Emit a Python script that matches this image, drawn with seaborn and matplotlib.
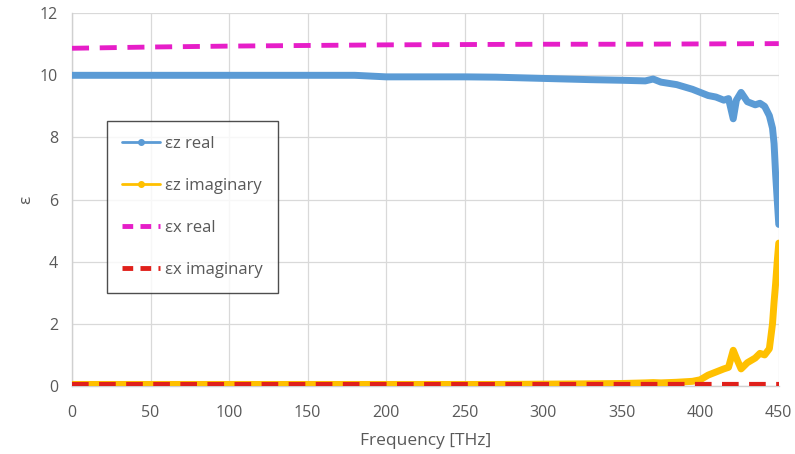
import matplotlib.pyplot as plt
import seaborn as sns
import pandas as pd
from matplotlib.lines import Line2D

# frequency grid for the z-component (denser near the resonance)
freq_z = [0, 50, 100, 150, 180, 200, 250, 270, 300, 330, 350, 365, 370, 375, 385, 395,
          400, 405, 410, 415, 418, 421, 423, 426, 430, 435, 438, 441, 444, 446, 447,
          448, 449, 450]
ez_real = [10.0, 10.0, 10.0, 10.0, 10.0, 9.95, 9.95, 9.94, 9.9, 9.86, 9.84, 9.82, 9.88,
           9.78, 9.7, 9.55, 9.45, 9.35, 9.3, 9.2, 9.25, 8.6, 9.2, 9.45, 9.15, 9.05, 9.1,
           9.0, 8.7, 8.3, 7.8, 6.8, 6.0, 5.2]
ez_imag = [0.05, 0.05, 0.05, 0.05, 0.05, 0.05, 0.05, 0.05, 0.06, 0.07, 0.08, 0.1, 0.11,
           0.1, 0.12, 0.15, 0.2, 0.35, 0.45, 0.55, 0.6, 1.15, 0.9, 0.55, 0.75, 0.9, 1.05,
           1.0, 1.2, 2.0, 2.7, 3.3, 4.0, 4.6]

# x-component
freq_x = [0, 50, 100, 150, 200, 250, 300, 350, 400, 450]
ex_real = [10.87, 10.91, 10.94, 10.96, 10.98, 10.99, 11.0, 11.0, 11.01, 11.02]
ex_imag = [0.05, 0.05, 0.05, 0.05, 0.05, 0.05, 0.05, 0.05, 0.05, 0.05]

blue = '#5B9BD5'
yellow = '#FFC000'
magenta = '#E61EC8'
red = '#E0201B'
text_gray = '#595959'

sns.set_theme(style="whitegrid")
plt.rcParams['font.family'] = ['Open Sans', 'DejaVu Sans']

fig = plt.figure(figsize=(7.95, 4.54), dpi=100)
ax = fig.add_axes([0.0906, 0.1498, 0.889, 0.8212])

df_z = pd.DataFrame({'f': freq_z, 'real': ez_real, 'imag': ez_imag})
df_x = pd.DataFrame({'f': freq_x, 'real': ex_real, 'imag': ex_imag})

sns.lineplot(data=df_x, x='f', y='real', ax=ax, color=magenta, lw=3.5,
             dashes=False, linestyle=(0, (3.5, 2.2)), zorder=3)
sns.lineplot(data=df_z, x='f', y='real', ax=ax, color=blue, lw=5, zorder=4)
sns.lineplot(data=df_z, x='f', y='imag', ax=ax, color=yellow, lw=5, zorder=4)
sns.lineplot(data=df_x, x='f', y='imag', ax=ax, color=red, lw=3,
             dashes=False, linestyle=(0, (4, 2.5)), zorder=5)

ax.set_xlim(0, 450)
ax.set_ylim(0, 12)
ax.set_xticks(range(0, 451, 50))
ax.set_yticks(range(0, 13, 2))
ax.set_facecolor('white')
ax.grid(True, color='#D9D9D9', lw=0.9)
for side in ['top', 'right']:
    ax.spines[side].set_visible(False)
for side in ['left', 'bottom']:
    ax.spines[side].set_color('#D0D0D0')
    ax.spines[side].set_linewidth(1.0)
ax.tick_params(axis='both', colors=text_gray, labelsize=11.5, length=0)
ax.tick_params(axis='x', pad=14)
ax.tick_params(axis='y', pad=10)

ax.set_xlabel('Frequency [THz]', fontsize=12.5, color=text_gray, labelpad=8)
ax.set_ylabel('ε', fontsize=12.5, color=text_gray, labelpad=4)

handles = [
    Line2D([], [], color=blue, lw=2, marker='o', markersize=4),
    Line2D([], [], color=yellow, lw=2, marker='o', markersize=4),
    Line2D([], [], color=magenta, lw=3.5, linestyle=(0, (2.2, 1.5))),
    Line2D([], [], color=red, lw=3.5, linestyle=(0, (2.2, 1.5))),
]
labels = ['εz real', 'εz imaginary', 'εx real', 'εx imaginary']
leg = ax.legend(handles, labels, loc='upper left', bbox_to_anchor=(0.049, 0.71),
                fontsize=12, labelspacing=1.55, handlelength=2.3, handletextpad=0.3,
                frameon=True, fancybox=False, borderpad=0.9, borderaxespad=0)
leg.get_frame().set_edgecolor('#222222')
leg.get_frame().set_linewidth(1.0)
for t in leg.get_texts():
    t.set_color(text_gray)

plt.savefig('out.png', dpi=100)
